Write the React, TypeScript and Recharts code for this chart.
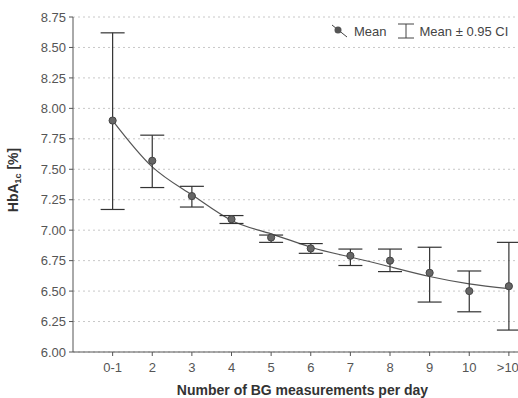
import React from 'react';
import { CartesianGrid, ComposedChart, ErrorBar, Line, XAxis, YAxis } from 'recharts';

const categories = ['0-1', '2', '3', '4', '5', '6', '7', '8', '9', '10', '>10'];
const meanValues = [7.9, 7.57, 7.28, 7.09, 6.94, 6.85, 6.79, 6.75, 6.65, 6.5, 6.54];
const ciLower = [7.17, 7.35, 7.19, 7.055, 6.9, 6.81, 6.71, 6.66, 6.41, 6.33, 6.18];
const ciUpper = [8.62, 7.78, 7.36, 7.12, 6.96, 6.89, 6.845, 6.845, 6.86, 6.665, 6.9];
const fitValues = [7.9, 7.52, 7.29, 7.08, 6.97, 6.86, 6.78, 6.7, 6.62, 6.56, 6.52];
const yTicks = [6, 6.25, 6.5, 6.75, 7, 7.25, 7.5, 7.75, 8, 8.25, 8.5, 8.75];

const data = categories.map((c, i) => ({
  x: i + 1,
  label: c,
  mean: meanValues[i],
  fit: fitValues[i],
  ci: [meanValues[i] - ciLower[i], ciUpper[i] - meanValues[i]],
}));

const font = '"Liberation Sans", Arial, sans-serif';
const axisColor = '#555';

const Legend = () => (
  <div style={{ position: 'absolute', left: 328, top: 22, display: 'flex', alignItems: 'center', whiteSpace: 'nowrap', fontSize: 13, color: '#444' }}>
    <svg width={22} height={18}>
      <line x1={4} y1={3} x2={19} y2={15} stroke="#444" strokeWidth={1} />
      <circle cx={10} cy={8} r={3.5} fill="#555" />
    </svg>
    <span style={{ marginLeft: 4 }}>Mean</span>
    <svg width={24} height={18} style={{ marginLeft: 8 }}>
      <line x1={3} y1={2} x2={19} y2={2} stroke="#444" />
      <line x1={11} y1={2} x2={11} y2={16} stroke="#444" />
      <line x1={3} y1={16} x2={19} y2={16} stroke="#444" />
    </svg>
    <span style={{ marginLeft: 1 }}>Mean ± 0.95 CI</span>
  </div>
);

export default function App() {
  return (
    <div style={{ position: 'absolute', left: 0, top: 0, width: 518, height: 398, overflow: 'hidden', background: '#fff', fontFamily: font }}>
      <ComposedChart width={518} height={398} data={data} margin={{ top: 17, right: 0, bottom: 6, left: 13 }}>
        <CartesianGrid vertical={false} stroke="#c8c8c8" strokeDasharray="2 3" />
        <XAxis
          dataKey="x"
          type="number"
          domain={[0, 11.23]}
          ticks={data.map((d) => d.x)}
          tickFormatter={(v) => categories[v - 1]}
          height={40}
          tickSize={4}
          tickMargin={7}
          stroke={axisColor}
          tick={{ fill: '#555', fontSize: 13, fontFamily: font }}
          allowDataOverflow
        />
        <YAxis
          type="number"
          domain={[6, 8.75]}
          ticks={yTicks}
          tickFormatter={(v) => v.toFixed(2)}
          width={60}
          tickSize={4}
          tickMargin={3}
          stroke={axisColor}
          tick={{ fill: '#555', fontSize: 13, fontFamily: font }}
          interval={0}
        />
        <Line dataKey="fit" type="natural" stroke="#555" strokeWidth={1.2} dot={false} isAnimationActive={false} />
        <Line
          dataKey="mean"
          stroke="none"
          dot={{ r: 3.6, fill: '#666', stroke: '#444', strokeWidth: 1 }}
          isAnimationActive={false}
        >
          <ErrorBar dataKey="ci" direction="y" width={12} stroke="#333" strokeWidth={1.2} />
        </Line>
      </ComposedChart>
      <Legend />
      <div style={{ position: 'absolute', left: 170, top: 382, width: 265, textAlign: 'center', fontWeight: 'bold', fontSize: 14, color: '#333', whiteSpace: 'nowrap' }}>
        Number of BG measurements per day
      </div>
      <div
        style={{
          position: 'absolute',
          left: 14,
          top: 180,
          transform: 'translate(-50%, -50%) rotate(-90deg)',
          fontWeight: 'bold',
          fontSize: 14,
          color: '#333',
          whiteSpace: 'nowrap',
        }}
      >
        HbA<sub style={{ fontSize: 9 }}>1c</sub> [%]
      </div>
    </div>
  );
}
